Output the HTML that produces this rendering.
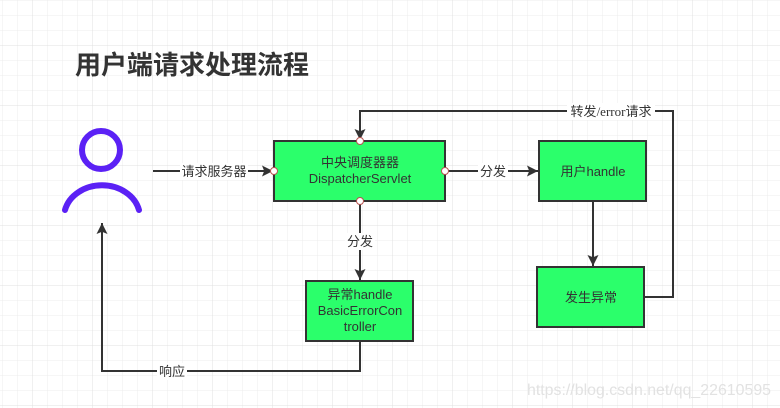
<!DOCTYPE html>
<html><head><meta charset="utf-8"><style>
body{margin:0;width:780px;height:408px;overflow:hidden;background:#fff;}
svg{display:block}
text{font-family:"Liberation Sans","Noto Sans CJK SC",sans-serif;}
</style></head><body>
<svg width="780" height="408" xmlns="http://www.w3.org/2000/svg">
<defs>
<pattern id="g" x="2" y="0" width="15" height="15" patternUnits="userSpaceOnUse">
<path d="M0 0V15M0 0H15" stroke="#ececec" stroke-width="1" fill="none"/>
</pattern>
<pattern id="G" x="32" y="45" width="60" height="60" patternUnits="userSpaceOnUse">
<path d="M0 0V60M0 0H60" stroke="#e0e0e0" stroke-width="1" fill="none"/>
</pattern>
<marker id="a" viewBox="0 0 10 10" refX="10" refY="5" markerWidth="11" markerHeight="11" markerUnits="userSpaceOnUse" orient="auto">
<path d="M0 0L10 5L0 10L2 5Z" fill="#333"/>
</marker>
</defs>
<rect width="780" height="408" fill="url(#g)"/>
<rect width="780" height="408" fill="url(#G)"/>
<text x="75" y="74" font-size="26" font-weight="bold" fill="#333">用户端请求处理流程</text>
<circle cx="101" cy="150" r="19" fill="none" stroke="#5b21f5" stroke-width="6"/>
<path d="M65 210 A38 32 0 0 1 139 210" fill="none" stroke="#5b21f5" stroke-width="6" stroke-linecap="round"/>
<g stroke="#333" stroke-width="2" fill="none">
<path d="M153 171H273" marker-end="url(#a)"/>
<path d="M445 171H538" marker-end="url(#a)"/>
<path d="M593 201V266" marker-end="url(#a)"/>
<path d="M360 201V280" marker-end="url(#a)"/>
<path d="M644 297H673V111H360V140" marker-end="url(#a)"/>
<path d="M360 341V371H102V223" marker-end="url(#a)"/>
</g>
<g font-size="13" fill="#333" text-anchor="middle">
<rect x="180" y="163" width="68" height="17" fill="#fff"/><text x="214" y="176">请求服务器</text>
<rect x="478" y="163" width="30" height="17" fill="#fff"/><text x="493" y="176">分发</text>
<rect x="345" y="233" width="30" height="17" fill="#fff"/><text x="360" y="246">分发</text>
<rect x="157" y="363" width="30" height="17" fill="#fff"/><text x="172" y="376">响应</text>
<rect x="567" y="103" width="88" height="17" fill="#fff"/><text x="611" y="116"><tspan>转发</tspan><tspan font-family="Liberation Serif,serif">/error</tspan><tspan>请求</tspan></text>
</g>
<g fill="#2bff6b" stroke="#333" stroke-width="2">
<rect x="274" y="141" width="171" height="60"/>
<rect x="539" y="141" width="107" height="60"/>
<rect x="537" y="267" width="107" height="60"/>
<rect x="306" y="281" width="107" height="60"/>
</g>
<g fill="#fff" stroke="#b85450" stroke-width="1">
<circle cx="274" cy="171" r="3.5"/><circle cx="445" cy="171" r="3.5"/>
<circle cx="360" cy="141" r="3.5"/><circle cx="360" cy="201" r="3.5"/>
</g>
<g font-size="13" fill="#333" text-anchor="middle">
<text x="360" y="167">中央调度器器</text>
<text x="360" y="183">DispatcherServlet</text>
<text x="593" y="176">用户handle</text>
<text x="591" y="302">发生异常</text>
<text x="360" y="299">异常handle</text>
<text x="360" y="315">BasicErrorCon</text>
<text x="360" y="331">troller</text>
</g>
<text x="527" y="395" font-size="15.5" fill="#e2e2e2" textLength="244" lengthAdjust="spacingAndGlyphs">https://blog.csdn.net/qq_22610595</text>
</svg>
</body></html>
